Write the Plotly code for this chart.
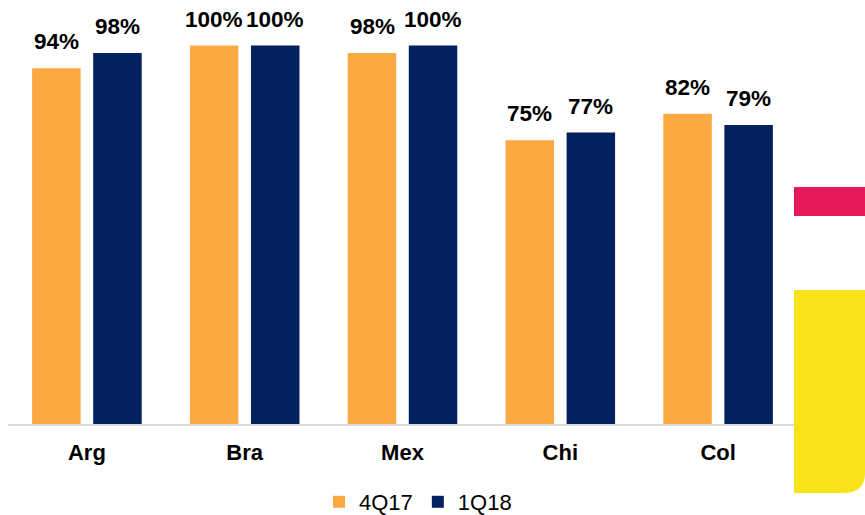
import plotly.graph_objects as go

categories = ["Arg", "Bra", "Mex", "Chi", "Col"]
series_names = ["4Q17", "1Q18"]
values_4q17 = [0.94, 1.00, 0.98, 0.75, 0.82]
values_1q18 = [0.98, 1.00, 1.00, 0.77, 0.79]
labels_4q17 = ["94%", "100%", "98%", "75%", "82%"]
labels_1q18 = ["98%", "100%", "100%", "77%", "79%"]

colors = ["#FDA943", "#03205F"]
series_values = [values_4q17, values_1q18]
series_labels = [labels_4q17, labels_1q18]

fig = go.Figure()
for name, vals, col in zip(series_names, series_values, colors):
    fig.add_trace(go.Bar(x=categories, y=vals, name=name, marker=dict(color=col, line=dict(width=0))))

annotations = []
offsets = [-30.5, 30.5]
for labs, vals, dx in zip(series_labels, series_values, offsets):
    for c, v, t in zip(categories, vals, labs):
        annotations.append(dict(x=c, y=v, xref="x", yref="y", text=f"<b>{t}</b>", showarrow=False,
                                xshift=dx, yshift=12, yanchor="bottom",
                                font=dict(family="Liberation Sans, Arial", size=22.5, color="#000000")))

# plot area spans screen x 8..797, y 0..424 (body margin removed)
W = 789.0
H = 424.0
def px(x):
    return (x - 8) / W
def py(y):
    return (424 - y) / H

rx = 22 / W
ry = 20 / H
yx0, yx1 = px(794), px(865)
yy0, yy1 = py(493), py(290)
path = (f"M {yx0},{yy1} L {yx1},{yy1} L {yx1},{yy0 + ry} "
        f"Q {yx1},{yy0} {yx1 - rx},{yy0} L {yx0},{yy0} Z")

shapes = [
    dict(type="rect", xref="paper", yref="paper", x0=px(794), x1=px(870), y0=py(216), y1=py(187),
         fillcolor="#E6195A", line=dict(width=0), layer="above"),
    dict(type="path", xref="paper", yref="paper", path=path,
         fillcolor="#F8E31A", line=dict(width=0), layer="above"),
]

fig.update_layout(
    width=865, height=515,
    margin=dict(l=8, r=68, t=0, b=91, autoexpand=False),
    paper_bgcolor="white", plot_bgcolor="white",
    barmode="group", bargap=0.226, bargroupgap=0.206,
    annotations=annotations, shapes=shapes,
    showlegend=True,
    legend=dict(orientation="h", x=px(418), xanchor="center", y=py(502), yanchor="middle",
                font=dict(family="Liberation Sans, Arial", size=22, color="#000000"),
                itemwidth=30, traceorder="normal"),
    xaxis=dict(showline=True, linecolor="#D9D9D9", linewidth=2, showgrid=False, zeroline=False,
               ticks="", ticklabelstandoff=8),
    yaxis=dict(range=[0, 424 / 378.5], visible=False, showgrid=False, zeroline=False),
)
fig.update_xaxes(tickfont=dict(family="Liberation Sans", size=22, color="#000000", weight="bold"))

fig.write_html("out.html", config={"displayModeBar": False},
               post_script="document.body.style.margin='0';document.body.style.overflow='hidden';")
